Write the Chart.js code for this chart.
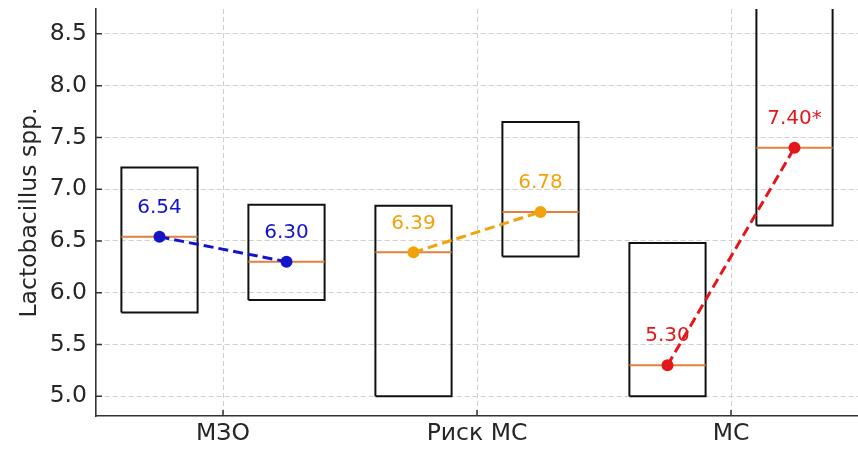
<!DOCTYPE html>
<html>
<head>
<meta charset="utf-8">
<script src="https://cdn.jsdelivr.net/npm/chart.js@4.4.1/dist/chart.umd.min.js"></script>
<style>
  html, body { margin: 0; padding: 0; background: #fff; }
  #wrap { width: 858px; height: 455px; }
</style>
</head>
<body>
<div id="wrap"><canvas id="lacto"></canvas></div>
<script>
// groups on the x axis, two boxes (before / after) per group
var groups = ['МЗО', 'Риск МС', 'МС'];
var boxLow = [5.81, 5.93, 5.00, 6.35, 5.00, 6.65];
var boxHigh = [7.21, 6.85, 6.84, 7.65, 6.48, 9.10];
var medians = [6.54, 6.30, 6.39, 6.78, 5.30, 7.40];
var marks = ['', '', '', '', '', '*'];
var yTicks = [5.0, 5.5, 6.0, 6.5, 7.0, 7.5, 8.0, 8.5];

var groupColors = ['#1414c8', '#f2a20c', '#e3171b'];
var medianColor = '#e2803e';
var halfW = 0.15;
var axisFont = {family: 'DejaVu Sans', size: 23.5};

function boxPos(i) {
  var g = Math.floor(i / 2);
  return g + (i % 2 ? 0.25 : -0.25);
}

var datasets = [];

// dashed lines between medians of each group
groups.forEach(function (name, g) {
  var a = g * 2, b = g * 2 + 1;
  datasets.push({
    data: [{x: boxPos(a), y: medians[a]}, {x: boxPos(b), y: medians[b]}],
    borderColor: groupColors[g],
    backgroundColor: groupColors[g],
    borderWidth: 3,
    borderDash: [10, 5],
    pointRadius: 6,
    pointBorderWidth: 0,
    pointBackgroundColor: groupColors[g],
    order: 0
  });
});

medians.forEach(function (m, i) {
  var x = boxPos(i);
  datasets.push({
    data: [{x: x - halfW, y: m}, {x: x + halfW, y: m}],
    borderColor: medianColor,
    borderWidth: 2,
    pointRadius: 0,
    order: 1
  });
  datasets.push({
    data: [
      {x: x - halfW, y: boxLow[i]}, {x: x + halfW, y: boxLow[i]},
      {x: x + halfW, y: boxHigh[i]}, {x: x - halfW, y: boxHigh[i]},
      {x: x - halfW, y: boxLow[i]}
    ],
    borderColor: '#111',
    borderWidth: 2,
    pointRadius: 0,
    order: 2
  });
});

// value labels above the median points
var valueLabels = {
  id: 'valueLabels',
  afterDatasetsDraw: function (chart) {
    var ctx = chart.ctx, xs = chart.scales.x, ys = chart.scales.y;
    ctx.save();
    ctx.font = '20px "DejaVu Sans"';
    ctx.textAlign = 'center';
    ctx.textBaseline = 'middle';
    medians.forEach(function (m, i) {
      ctx.fillStyle = groupColors[Math.floor(i / 2)];
      ctx.fillText(m.toFixed(2) + marks[i], xs.getPixelForValue(boxPos(i)), ys.getPixelForValue(m) - 29);
    });
    ctx.restore();
  }
};

// short inward tick marks on both axes
var inTicks = {
  id: 'inTicks',
  afterDraw: function (chart) {
    var ctx = chart.ctx, xs = chart.scales.x, ys = chart.scales.y, a = chart.chartArea;
    ctx.save();
    ctx.strokeStyle = '#333';
    ctx.lineWidth = 1.5;
    ctx.beginPath();
    xs.ticks.forEach(function (t) {
      var px = xs.getPixelForValue(t.value);
      ctx.moveTo(px, a.bottom);
      ctx.lineTo(px, a.bottom - 6);
    });
    ys.ticks.forEach(function (t) {
      var py = ys.getPixelForValue(t.value);
      ctx.moveTo(a.left, py);
      ctx.lineTo(a.left + 6, py);
    });
    ctx.stroke();
    ctx.restore();
  }
};

new Chart(document.getElementById('lacto'), {
  type: 'line',
  data: {datasets: datasets},
  plugins: [valueLabels, inTicks],
  options: {
    responsive: true,
    maintainAspectRatio: false,
    animation: false,
    layout: {autoPadding: false, padding: {top: 9, right: 0, bottom: 0, left: 0}},
    plugins: {legend: {display: false}, tooltip: {enabled: false}},
    elements: {line: {tension: 0, fill: false}},
    scales: {
      x: {
        type: 'linear',
        min: -0.5,
        max: 2.5,
        afterBuildTicks: function (axis) {
          axis.ticks = groups.map(function (g, i) { return {value: i}; });
        },
        afterFit: function (axis) {
          axis.height = 39;
          axis.paddingLeft = 0;
          axis.paddingRight = 0;
        },
        ticks: {
          padding: 4,
          color: '#262626',
          font: axisFont,
          callback: function (v) { return groups[v]; }
        },
        grid: {color: '#cfcfcf', lineWidth: 1, drawTicks: false},
        border: {display: true, color: '#333', width: 1.6, dash: [5, 3]}
      },
      y: {
        min: 4.81,
        max: 8.74,
        afterBuildTicks: function (axis) {
          axis.ticks = yTicks.map(function (v) { return {value: v}; });
        },
        afterFit: function (axis) {
          axis.width = 96;
          axis.paddingTop = 0;
          axis.paddingBottom = 0;
        },
        ticks: {
          padding: 9,
          color: '#262626',
          font: axisFont,
          callback: function (v) { return v.toFixed(1); }
        },
        grid: {color: '#cfcfcf', lineWidth: 1, drawTicks: false},
        border: {display: true, color: '#333', width: 1.6, dash: [5, 3]},
        title: {
          display: true,
          text: 'Lactobacillus spp.',
          color: '#262626',
          font: axisFont,
          padding: {top: 16, bottom: 0}
        }
      }
    }
  }
});
</script>
</body>
</html>
